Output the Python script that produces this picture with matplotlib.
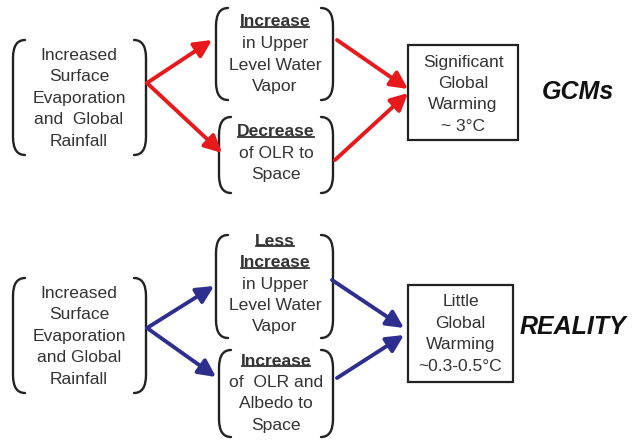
import matplotlib
matplotlib.use("Agg")
import matplotlib.pyplot as plt
from matplotlib.path import Path
from matplotlib.patches import PathPatch, Rectangle, FancyArrowPatch

plt.rcParams['font.family'] = ['Liberation Sans', 'DejaVu Sans']

# ---- content ----
source_lines = ["Increased", "Surface", "Evaporation", "and  Global", "Rainfall"]
source_lines_b = ["Increased", "Surface", "Evaporation", "and Global", "Rainfall"]
gcm_upper_head = ["Increase"]
gcm_upper_body = ["in Upper", "Level Water", "Vapor"]
gcm_lower_head = ["Decrease"]
gcm_lower_body = ["of OLR to", "Space"]
gcm_result = ["Significant", "Global", "Warming", "~ 3°C"]
gcm_label = "GCMs"
real_upper_head = ["Less", "Increase"]
real_upper_body = ["in Upper", "Level Water", "Vapor"]
real_lower_head = ["Increase"]
real_lower_body = ["of  OLR and", "Albedo to", "Space"]
real_result = ["Little", "Global", "Warming", "~0.3-0.5°C"]
real_label = "REALITY"

RED = "#e8191b"
BLUE = "#2e2e8e"
TXT = "#333333"

fig = plt.figure(figsize=(6.34, 4.42), dpi=100)
ax = fig.add_axes([0, 0, 1, 1])
ax.set_xlim(0, 634)
ax.set_ylim(442, 0)
ax.axis('off')

FS = 12.6
LH = 21.5


def bracket_box(x0, x1, y0, y1, w=12, r=18):
    for side in (0, 1):
        if side == 0:
            xe, xv = x0 + w, x0
        else:
            xe, xv = x1 - w, x1
        verts = [(xe, y0), (xv, y0), (xv, y0 + r), (xv, y1 - r), (xv, y1), (xe, y1)]
        codes = [Path.MOVETO, Path.CURVE3, Path.CURVE3, Path.LINETO, Path.CURVE3, Path.CURVE3]
        ax.add_patch(PathPatch(Path(verts, codes), fill=False, lw=1.7, ec="#222222",
                               capstyle='round'))


underlines = []


def lines(cx, y_first, items, bold=False, underline=False):
    y = y_first
    for s in items:
        t = ax.text(cx, y, s, ha='center', va='center', fontsize=FS, color=TXT,
                    fontweight='bold' if bold else 'normal')
        if underline:
            underlines.append(t)
        y += LH
    return y


def arrow(p0, p1, color):
    a = FancyArrowPatch(p0, p1, arrowstyle='-|>,head_length=9,head_width=4.5',
                        mutation_scale=1.15, lw=2.8, color=color, shrinkA=0, shrinkB=0)
    ax.add_patch(a)


def section(dy, src, uh, ub, lh, lb, res, label, color, up_box, low_box, res_box, lab_xy,
            arrows):
    # left box
    bracket_box(13, 146, 40 + dy, 155 + dy)
    lines(79, 55 + dy, src)
    # upper middle
    bracket_box(216, 333, up_box[0], up_box[1])
    y = lines(275, up_box[2], uh, bold=True, underline=True)
    lines(275, y, ub)
    # lower middle
    bracket_box(219, 333, low_box[0], low_box[1])
    y = lines(276, low_box[2], lh, bold=True, underline=True)
    lines(276, y, lb)
    # result
    x0, x1, y0, y1 = res_box
    ax.add_patch(Rectangle((x0, y0), x1 - x0, y1 - y0, fill=False, lw=1.6, ec="#222222"))
    lines((x0 + x1) / 2, y0 + 17, res)
    ax.text(lab_xy[0], lab_xy[1], label, ha='center', va='center', fontsize=18,
            fontweight='bold', fontstyle='italic', color='#111111')
    for p0, p1 in arrows:
        arrow(p0, p1, color)


section(0, source_lines, gcm_upper_head, gcm_upper_body, gcm_lower_head, gcm_lower_body,
        gcm_result, gcm_label, RED,
        up_box=(8, 100, 22), low_box=(117, 193, 132), res_box=(408, 518, 45, 140),
        lab_xy=(578, 92),
        arrows=[((147, 83), (212, 40)), ((147, 83), (222, 153)),
                ((337, 40), (408, 89)), ((335, 160), (408, 93))])

section(238, source_lines_b, real_upper_head, real_upper_body, real_lower_head,
        real_lower_body, real_result, real_label, BLUE,
        up_box=(235, 338, 241), low_box=(350, 437, 361), res_box=(408, 513, 285, 382),
        lab_xy=(573, 327),
        arrows=[((147, 328), (214, 286)), ((147, 328), (216, 377)),
                ((332, 280), (404, 328)), ((337, 378), (404, 335))])

fig.canvas.draw()
r = fig.canvas.get_renderer()
inv = ax.transData.inverted()
for t in underlines:
    bb = t.get_window_extent(r)
    (xa, ya), (xb, yb) = inv.transform([(bb.x0, bb.y0), (bb.x1, bb.y1)])
    yl = max(ya, yb) - 2.0
    ax.plot([xa + 1, xb - 1], [yl, yl], color=TXT, lw=1.3)

fig.savefig("out.png", dpi=100)
